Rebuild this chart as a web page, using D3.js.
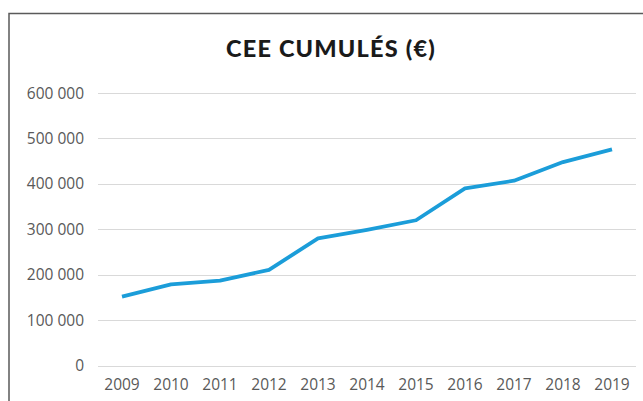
<!DOCTYPE html>
<html>
<head>
<meta charset="utf-8">
<script src="https://cdn.jsdelivr.net/npm/d3@7"></script>
<style>
  body { margin: 0; background: #fff; }
  svg { display: block; }
</style>
</head>
<body>
<div id="chart"></div>
<script>
const years = [2009, 2010, 2011, 2012, 2013, 2014, 2015, 2016, 2017, 2018, 2019];
const ceeValues = [152000, 179000, 187000, 211000, 280000, 299000, 320000, 390000, 407000, 448000, 476000];
const yTicks = [0, 100000, 200000, 300000, 400000, 500000, 600000];
const title = "CEE CUMULÉS (€)";

const width = 643;
const height = 401;

const margin = {
    top: 93,
    right: 7,
    bottom: 35,
    left: 98
};

const svg = d3.select("#chart")
    .append("svg")
    .attr("width", width)
    .attr("height", height);

// frame (only top and left show in the crop)
svg.append("path")
    .attr("d", `M9,${height + 2}V13.5H${width + 2}`)
    .attr("fill", "none")
    .attr("stroke", "#5a5a5a")
    .attr("stroke-width", 1.5);

svg.append("text")
    .attr("x", 331)
    .attr("y", 57)
    .attr("text-anchor", "middle")
    .attr("font-family", "Lato, 'Open Sans', sans-serif")
    .attr("font-weight", 900)
    .attr("font-size", 23.5)
    .attr("letter-spacing", 1.2)
    .attr("fill", "#1a1a1a")
    .text(title);

const x = d3.scalePoint()
    .domain(years)
    .range([122, 612]);

const y = d3.scaleLinear()
    .domain([0, 600000])
    .range([height - margin.bottom - 0.3, margin.top]);

const fmt = d => d3.format(",")(d).replace(/,/g, " ");

// gridlines
svg.append("g")
    .selectAll("line")
    .data(yTicks)
    .join("line")
    .attr("x1", margin.left)
    .attr("x2", width - margin.right)
    .attr("y1", d => Math.round(y(d)) + 0.5)
    .attr("y2", d => Math.round(y(d)) + 0.5)
    .attr("stroke", "#d9d9d9")
    .attr("stroke-width", 1);

// y labels
svg.append("g")
    .selectAll("text")
    .data(yTicks)
    .join("text")
    .attr("x", 84)
    .attr("y", d => y(d))
    .attr("dy", "0.36em")
    .attr("text-anchor", "end")
    .attr("font-family", "'Open Sans', sans-serif")
    .attr("font-size", 15.5)
    .attr("fill", "#595959")
    .text(d => fmt(d));

// x labels
svg.append("g")
    .selectAll("text")
    .data(years)
    .join("text")
    .attr("x", d => x(d))
    .attr("y", 390)
    .attr("text-anchor", "middle")
    .attr("font-family", "'Open Sans', sans-serif")
    .attr("font-size", 15.5)
    .attr("fill", "#595959")
    .text(d => d);

const line = d3.line()
    .x((d, i) => x(years[i]))
    .y(d => y(d));

svg.append("path")
    .datum(ceeValues)
    .attr("d", line)
    .attr("fill", "none")
    .attr("stroke", "#1b9dd9")
    .attr("stroke-width", 3.8)
    .attr("stroke-linejoin", "round");
</script>
</body>
</html>
